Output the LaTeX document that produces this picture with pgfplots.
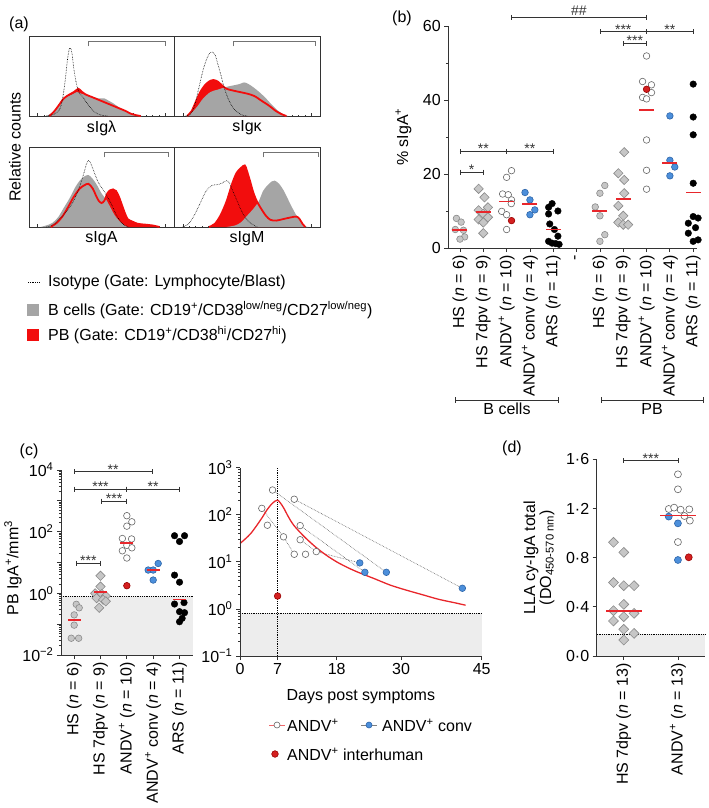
\documentclass[border=0pt]{standalone}
\usepackage{fontspec}
\setmainfont{Liberation Sans}
\usepackage{pgfplots}
\pgfplotsset{compat=1.18}
\definecolor{hgray}{HTML}{A5A5A5}
\definecolor{hred}{HTML}{F20D0D}
\definecolor{ptgray}{HTML}{C6C6C6}
\definecolor{ptedge}{HTML}{8A8A8A}
\definecolor{bluept}{HTML}{4C8FDB}
\definecolor{blueedge}{HTML}{2C64A8}
\definecolor{redpt}{HTML}{D42020}
\definecolor{medred}{HTML}{E8262B}
\definecolor{shade}{HTML}{EDEDED}
\definecolor{axc}{HTML}{333333}
\newcommand{\fs}{\fontsize{16}{19}\selectfont}
\newcommand{\sfs}{\fontsize{14}{14}\selectfont}
\newcommand{\nn}{\textit{n}}
\newcommand{\ap}{ANDV\textsuperscript{+}}
\newcommand{\brk}[4]{%
 \draw[axc, line width=0.8pt] (axis cs:#1,#3) -- node[midway, anchor=base, yshift=-2.5pt, inner sep=0pt, font=\sfs, text=axc] {#4} (axis cs:#2,#3);
 \draw[axc, line width=0.8pt] ([yshift=2.5pt]axis cs:#1,#3) -- ([yshift=-2.5pt]axis cs:#1,#3);
 \draw[axc, line width=0.8pt] ([yshift=2.5pt]axis cs:#2,#3) -- ([yshift=-2.5pt]axis cs:#2,#3);}
\pgfplotsset{
 base/.style={scale only axis, axis lines*=left, axis line style={axc, line width=0.8pt, -},
   every tick/.style={axc, line width=0.8pt}, tick align=outside, major tick length=4pt, minor tick length=2.5pt,
   tick label style={font=\fs}, label style={font=\fs}, /pgf/number format/assume math mode=true, clip=false, axis on top},
 hist/.style={scale only axis, xmin=0, xmax=100, ymin=0, ymax=100, axis line style={axc, line width=0.7pt},
   ytick=\empty, xtick={6,28,50,72,94}, xticklabels={}, minor x tick num=4, tick align=inside, xtick pos=bottom,
   major tick length=3pt, minor tick length=1.5pt, every tick/.style={axc, line width=0.5pt},
   label style={font=\fs}, xlabel style={at={(axis description cs:0.5,0)}, anchor=north, yshift=-1pt}},
 hs/.style={only marks, mark=*, mark size=3.3pt, mark options={fill=ptgray, draw=ptedge, line width=0.6pt}},
 dpv/.style={only marks, mark=square*, mark size=3.3pt, mark options={rotate=45, fill=ptgray, draw=ptedge, line width=0.6pt}},
 andv/.style={only marks, mark=*, mark size=3.3pt, mark options={fill=white, draw=black!60, line width=0.6pt}},
 conv/.style={only marks, mark=*, mark size=3.3pt, mark options={fill=bluept, draw=blueedge, line width=0.6pt}},
 inter/.style={only marks, mark=*, mark size=3.3pt, mark options={fill=redpt, draw=red!60!black, line width=0.6pt}},
 ars/.style={only marks, mark=*, mark size=3.3pt, mark options={fill=black, draw=black}},
 med/.style={only marks, mark=-, mark size=7.5pt, mark options={draw=medred, line width=1.6pt}},
 thr/.style={densely dotted, black, line width=0.8pt},
}
\begin{document}
\begin{tikzpicture}[font=\fs]
\path[use as bounding box] (0,0) rectangle (709pt,-808pt);

% ================= (a) =================
\node at (19pt,-24pt) {(a)};
\node[rotate=90] at (15pt,-147pt) {Relative counts};

\begin{axis}[hist, at={(29pt,-116pt)}, anchor=south west, width=145pt, height=80pt, xlabel={sIgλ}]
\addplot[fill=hred, draw=none, smooth] coordinates {(14,0)(17,5)(20,12)(24,22)(28,27)(31,30)(34,34)(36,31)(39,27)(43,24)(47,21)(51,18)(55,15)(59,12)(63,9)(67,6)(70,3)(74,1)(77,0)};
\addplot[fill=hgray, draw=none, smooth] coordinates {(12,0)(15,3)(18,8)(22,18)(26,24)(30,27)(33,30)(36,28)(40,26)(44,24)(48,22)(52,22)(55,19)(58,16)(62,11)(66,7)(70,4)(74,1)(78,0)};
\addplot[hred, line width=1.8pt, smooth] coordinates {(14,0)(17,5)(20,12)(24,22)(28,27)(31,30)(34,34)(36,31)(39,27)(43,24)(47,21)(51,18)(55,15)(59,12)(63,9)(67,6)(70,3)(74,1)(77,0)};
\addplot[black, densely dotted, line width=0.6pt, smooth] coordinates {(12,0)(15,1)(18,3)(21,8)(23,20)(25,45)(26.5,70)(28,85)(29.5,80)(31,58)(33,38)(35,28)(37,24)(40,16)(43,9)(46,4)(50,1)(54,0)};
\draw[black!55, line width=0.8pt] (axis cs:40.7,87) -- (axis cs:40.7,93) -- (axis cs:93.8,93) -- (axis cs:93.8,87);
\end{axis}

\begin{axis}[hist, at={(174pt,-116pt)}, anchor=south west, width=146pt, height=80pt, xlabel={sIgκ}]
\addplot[fill=hred, draw=none, smooth] coordinates {(9,0)(12,6)(15,18)(18,30)(21,38)(24,43)(27,45)(30,43)(33,38)(36,34)(40,32)(45,30)(50,28)(55,25)(60,19)(65,13)(70,6)(74,2)(77,0)};
\addplot[fill=hgray, draw=none, smooth] coordinates {(8,0)(12,4)(16,12)(20,22)(25,30)(30,33)(35,36)(40,38)(45,40)(48,42)(51,40)(55,35)(59,29)(63,22)(67,14)(71,7)(75,2)(78,0)};
\addplot[hred, line width=1.8pt, smooth] coordinates {(9,0)(12,6)(15,18)(18,30)(21,38)(24,43)(27,45)(30,43)(33,38)(36,34)(40,32)(45,30)(50,28)(55,25)(60,19)(65,13)(70,6)(74,2)(77,0)};
\addplot[black, densely dotted, line width=0.6pt, smooth] coordinates {(8,0)(11,2)(14,12)(17,35)(20,58)(23,74)(25.5,80)(28,77)(30,65)(32,52)(34,38)(36,27)(38,18)(41,9)(44,4)(47,1)(50,0)};
\draw[black!55, line width=0.8pt] (axis cs:41,87) -- (axis cs:41,93) -- (axis cs:96.6,93) -- (axis cs:96.6,87);
\end{axis}

\begin{axis}[hist, at={(29pt,-227pt)}, anchor=south west, width=145pt, height=80pt, xlabel={sIgA}]
\addplot[fill=hred, draw=none, smooth] coordinates {(15,0)(19,5)(23,13)(27,25)(31,38)(35,48)(38,52)(41,54)(44,48)(46,40)(48,33)(50,30)(52,33)(54,42)(56,46)(58,47)(60,45)(62,38)(64,28)(66,18)(68,10)(71,7)(75,4)(80,3)(85,2)(90,0)};
\addplot[fill=hgray, draw=none, smooth] coordinates {(8,0)(12,2)(16,5)(20,12)(24,24)(28,36)(32,50)(35,58)(38,63)(41,65)(44,60)(47,52)(50,42)(53,35)(56,25)(59,15)(62,8)(65,3)(68,0)};
\addplot[hred, line width=1.8pt, smooth] coordinates {(15,0)(19,5)(23,13)(27,25)(31,38)(35,48)(38,52)(41,54)(44,48)(46,40)(48,33)(50,30)(52,33)(54,42)(56,46)(58,47)(60,45)(62,38)(64,28)(66,18)(68,10)(71,7)(75,4)(80,3)(85,2)(90,0)};
\addplot[black, densely dotted, line width=0.6pt, smooth] coordinates {(12,0)(16,2)(20,8)(25,18)(30,30)(34,46)(37,62)(39.5,78)(41,83)(42.5,80)(45,68)(48,55)(51,47)(54,38)(57,28)(60,16)(63,7)(66,2)(69,0)};
\draw[black!55, line width=0.8pt] (axis cs:51.7,87) -- (axis cs:51.7,93.5) -- (axis cs:95.9,93.5) -- (axis cs:95.9,87);
\end{axis}

\begin{axis}[hist, at={(174pt,-227pt)}, anchor=south west, width=146pt, height=80pt, xlabel={sIgM}]
\addplot[fill=hred, draw=none, smooth] coordinates {(24,0)(28,4)(32,15)(36,32)(40,55)(43,68)(46,74)(48.5,77)(50,70)(52,58)(54,45)(56,35)(58,28)(60,22)(63,14)(66,9)(70,8)(75,10)(80,12)(84,13)(86,10)(88,4)(90,0)};
\addplot[fill=hgray, draw=none, smooth] coordinates {(36,0)(42,2)(46,6)(50,14)(54,22)(58,32)(61,45)(64,52)(67,57)(69,58)(72,54)(75,46)(78,35)(81,24)(84,14)(87,6)(90,1)(92,0)};
\addplot[hred, line width=1.8pt, smooth] coordinates {(24,0)(28,4)(32,15)(36,32)(40,55)(43,68)(46,74)(48.5,77)(50,70)(52,58)(54,45)(56,35)(58,28)(60,22)(63,14)(66,9)(70,8)(75,10)(80,12)(84,13)(86,10)(88,4)(90,0)};
\addplot[black, densely dotted, line width=0.6pt, smooth] coordinates {(6,0)(10,4)(14,15)(18,30)(22,45)(26,52)(30,53)(33,55)(36,58)(38,55)(40,46)(42,38)(45,25)(48,14)(51,7)(54,3)(57,0)};
\draw[black!55, line width=0.8pt] (axis cs:61,87) -- (axis cs:61,93.5) -- (axis cs:98.6,93.5) -- (axis cs:98.6,87);
\end{axis}

% legend (a)
\draw[black, densely dotted, line width=0.8pt] (28pt,-282pt) -- (40pt,-282pt);
\node[anchor=west, inner sep=0pt] at (48pt,-282pt) {Isotype (Gate: Lymphocyte/Blast)};
\fill[hgray] (27pt,-304pt) rectangle (39pt,-316pt);
\node[anchor=west, inner sep=0pt] at (48pt,-310pt) {B cells (Gate: CD19\textsuperscript{+}/CD38\textsuperscript{low/neg}/CD27\textsuperscript{low/neg})};
\fill[hred] (27pt,-329pt) rectangle (39pt,-341pt);
\node[anchor=west, inner sep=0pt] at (48pt,-335pt) {PB (Gate: CD19\textsuperscript{+}/CD38\textsuperscript{hi}/CD27\textsuperscript{hi})};

% ================= (b) =================
\node at (402pt,-18pt) {(b)};
\begin{axis}[base, at={(448.3pt,-248pt)}, anchor=south west, width=248.4pt, height=222pt,
  xmin=-0.5, xmax=10.15, ymin=0, ymax=60, ytick={0,20,40,60}, minor ytick={10,30,50},
  xtick={0,1,2,3,4,5,6,7,8,9,10},
  xticklabels={HS (\nn{} = 6), HS 7dpv (\nn{} = 9), \ap{} (\nn{} = 10), \ap{} conv (\nn{} = 4), ARS (\nn{} = 11), -, HS (\nn{} = 6), HS 7dpv (\nn{} = 9), \ap{} (\nn{} = 10), \ap{} conv (\nn{} = 4), ARS (\nn{} = 11)},
  xticklabel style={rotate=90, anchor=east},
  ylabel={\% sIgA\textsuperscript{+}},
  every axis y label/.style={at={(axis description cs:-0.181,0.5)}, rotate=90, anchor=center}]
% B cells
\addplot[hs] coordinates {(-0.15,8.0)(0.05,7.0)(-0.2,5.0)(0.15,4.8)(0.2,3.0)(0.0,2.4)};
\addplot[dpv] coordinates {(0.8,16.0)(1.05,13.7)(1.2,11.0)(0.8,10.2)(1,9.3)(1.2,8.3)(0.8,7.7)(1,6.9)(1,4.0)};
\addplot[andv] coordinates {(2.21,20.9)(2,19.1)(1.83,14.6)(2.07,14.4)(2.21,13.0)(2.2,12.0)(1.79,9.9)(2,9.0)(2,5.0)};
\addplot[inter] coordinates {(2.21,7.4)};
\addplot[conv] coordinates {(2.79,15.0)(3,13.0)(3.21,10.3)(3,9.0)};
\addplot[ars] coordinates {(3.95,12.0)(3.8,11.0)(4.2,10.0)(3.8,9.2)(3.85,6.5)(4.05,5.0)(4.2,3.2)(3.8,1.8)(3.95,1.3)(4.1,1.2)(4.25,1.0)};
% PB
\addplot[hs] coordinates {(6.21,16.9)(6,14.8)(5.8,11.1)(6,8.7)(6.21,3.6)(6,1.8)};
\addplot[dpv] coordinates {(7.04,25.9)(6.79,20.2)(7.04,18.4)(7.04,14.8)(6.79,11.4)(7,8.7)(6.79,6.9)(7,6.3)(7.21,6.3)};
\addplot[andv] coordinates {(8,51.9)(7.83,45.0)(8.21,44.1)(8.21,42.0)(7.83,40.7)(8,40.3)(8,29.2)(8,21.0)(8,15.9)};
\addplot[inter] coordinates {(8,42.9)};
\addplot[conv] coordinates {(9,35.7)(9,23.7)(9.21,21.9)(9,19.5)};
\addplot[ars] coordinates {(10,44.3)(10,35.4)(10,30.6)(10,17.5)(10,8.5)(10.21,8.1)(9.79,6.7)(9.79,4.0)(10,1.8)(10.21,2.2)(10.1,5.5)};
\addplot[med] coordinates {(0,4.9)(1,9.7)(2,12.6)(3,11.9)(4,5.0)(6,10.0)(7,13.2)(8,37.3)(9,22.9)(10,15.0)};
\brk{0}{1}{20.5}{*}
\brk{0}{2}{26.1}{**}
\brk{2}{4}{26.1}{**}
\brk{2.2}{8}{62.3}{\raisebox{4.5pt}{\#\#}}
\brk{6}{8}{58.5}{***}
\brk{8}{10}{58.5}{**}
\brk{7}{8}{55.3}{***}
\end{axis}
\draw[axc, line width=0.8pt] (455.7pt,-400pt) -- (558pt,-400pt);
\draw[axc, line width=0.8pt] (455.7pt,-397pt) -- (455.7pt,-403pt);
\draw[axc, line width=0.8pt] (558pt,-397pt) -- (558pt,-403pt);
\node[anchor=north, inner sep=1pt] at (507pt,-402pt) {B cells};
\draw[axc, line width=0.8pt] (601.7pt,-400pt) -- (703pt,-400pt);
\draw[axc, line width=0.8pt] (601.7pt,-397pt) -- (601.7pt,-403pt);
\draw[axc, line width=0.8pt] (703pt,-397pt) -- (703pt,-403pt);
\node[anchor=north, inner sep=1pt] at (652pt,-402pt) {PB};

% ================= (c) left =================
\node at (29pt,-451pt) {(c)};
\begin{axis}[base, at={(61pt,-655pt)}, anchor=south west, width=131.7pt, height=185pt,
  ymode=log, xmin=-0.5, xmax=4.5, ymin=0.01, ymax=10000,
  ytick={0.01,0.1,1,10,100,1000,10000},
  yticklabels={10\textsuperscript{−2},,10\textsuperscript{0},,10\textsuperscript{2},,10\textsuperscript{4}},
  minor ytick={0.02,0.03,0.04,0.05,0.06,0.07,0.08,0.09,0.2,0.3,0.4,0.5,0.6,0.7,0.8,0.9,2,3,4,5,6,7,8,9,20,30,40,50,60,70,80,90,200,300,400,500,600,700,800,900,2000,3000,4000,5000,6000,7000,8000,9000},
  minor tick length=2pt,
  xtick={0,1,2,3,4},
  xticklabels={HS (\nn{} = 6), HS 7dpv (\nn{} = 9), \ap{} (\nn{} = 10), \ap{} conv (\nn{} = 4), ARS (\nn{} = 11)},
  xticklabel style={rotate=90, anchor=east},
  ylabel={PB IgA\textsuperscript{+}/mm\textsuperscript{3}},
  every axis y label/.style={at={(axis description cs:-0.3645,0.47)}, rotate=90, anchor=center}]
\addplot[fill=shade, draw=none] coordinates {(-0.5,0.01)(4.5,0.01)(4.5,0.82)(-0.5,0.82)};
\addplot[thr] coordinates {(-0.5,0.82)(4.5,0.82)};
\addplot[hs] coordinates {(0.08,0.44)(0.19,0.34)(0,0.2)(0,0.093)(-0.11,0.035)(0.17,0.035)};
\addplot[dpv] coordinates {(1,3.7)(1,1.66)(0.8,1.0)(1.05,0.95)(1.2,0.82)(0.85,0.7)(1.1,0.62)(1.2,0.55)(0.95,0.34)};
\addplot[andv] coordinates {(2,330)(2.19,209)(2,151)(1.83,60)(2.18,58)(2,36)(2.19,30)(1.83,24)(2,14)};
\addplot[inter] coordinates {(2,1.77)};
\addplot[conv] coordinates {(2.81,5.7)(3,5.7)(3.19,9.3)(3,2.7)};
\addplot[ars] coordinates {(3.81,74)(4.19,74)(4,48)(3.81,3.9)(4,2.3)(3.81,0.45)(4.17,0.5)(4,0.255)(4.19,0.236)(4.1,0.155)(4,0.12)};
\addplot[med, mark size=6.5pt] coordinates {(0,0.136)(1,1.13)(2,43.6)(3,5.7)(4,0.64)};
\brk{0}{2.96}{8830}{**}
\brk{0}{2}{2420}{***}
\brk{2}{4}{2420}{**}
\brk{1.03}{2}{988}{***}
\brk{0.08}{1}{9.4}{***}
\end{axis}

% ================= (c) right =================
\begin{axis}[base, at={(240pt,-656pt)}, anchor=south west, width=241.7pt, height=188.3pt,
  ymode=log, xmin=0, xmax=45, ymin=0.1, ymax=1000,
  ytick={0.1,1,10,100,1000},
  yticklabels={10\textsuperscript{−1},10\textsuperscript{0},10\textsuperscript{1},10\textsuperscript{2},10\textsuperscript{3}},
  minor ytick={0.2,0.3,0.4,0.5,0.6,0.7,0.8,0.9,2,3,4,5,6,7,8,9,20,30,40,50,60,70,80,90,200,300,400,500,600,700,800,900},
  minor tick length=2pt,
  xtick={0,7,18,30,45},
  xlabel={Days post symptoms},
  every axis x label/.style={at={(axis description cs:0.5,0)}, anchor=center, yshift=-41pt}]
\addplot[fill=shade, draw=none] coordinates {(0,0.1)(45,0.1)(45,0.82)(0,0.82)};
\addplot[thr] coordinates {(0,0.82)(45,0.82)};
\addplot[thr] coordinates {(7,0.1)(7,1000)};
\addplot[densely dotted, black!65, line width=0.6pt] coordinates {(6.06,336)(27.25,6.0)};
\addplot[densely dotted, black!65, line width=0.6pt] coordinates {(10.1,214)(41.4,2.75)};
\addplot[densely dotted, black!65, line width=0.6pt] coordinates {(11.2,59)(23.25,6.0)};
\addplot[densely dotted, black!65, line width=0.6pt] coordinates {(11.2,29.5)(14.2,16.5)(22.3,9.5)};
\addplot[densely dotted, black!65, line width=0.6pt] coordinates {(4.06,137)(8.1,34)(10.1,14.5)};
\addplot[medred, line width=1.3pt, smooth, tension=0.5] coordinates {(0,24.5)(2,40)(4,83)(5,126)(6,174)(7,204)(8,148)(9,91)(10,60)(12,34)(14,21)(16,14)(18,10)(20,7.6)(22,6.0)(25,4.4)(28,3.2)(31,2.5)(34,2.0)(37,1.6)(40,1.35)(42,1.2)};
\addplot[andv] coordinates {(4.06,137)(5.1,60)(6.06,336)(8.1,34)(10.1,214)(11.2,59)(11.2,29.5)(10.1,14.5)(12.2,14.5)(14.2,16.5)};
\addplot[conv] coordinates {(22.3,9.5)(23.25,6.0)(27.25,6.0)(41.4,2.75)};
\addplot[inter] coordinates {(7,1.88)};
\end{axis}
% legend (c)
\draw[medred!70, line width=0.6pt] (269pt,-725pt) -- (285pt,-725pt);
\draw[fill=white, draw=black!60, line width=0.6pt] (277pt,-725pt) circle (3pt);
\node[anchor=west, inner sep=0pt] at (287pt,-725pt) {\ap};
\draw[black!50, line width=0.6pt] (361pt,-725pt) -- (377pt,-725pt);
\draw[fill=bluept, draw=blueedge, line width=0.6pt] (369pt,-725pt) circle (3pt);
\node[anchor=west, inner sep=0pt] at (382pt,-725pt) {\ap{} conv};
\draw[fill=redpt, draw=red!60!black, line width=0.6pt] (275pt,-754pt) circle (3.3pt);
\node[anchor=west, inner sep=0pt] at (287pt,-754pt) {\ap{} interhuman};

% ================= (d) =================
\node at (512pt,-448pt) {(d)};
\begin{axis}[base, at={(596.7pt,-656pt)}, anchor=south west, width=108.3pt, height=196.7pt,
  xmin=-0.5, xmax=1.5, ymin=0, ymax=1.6,
  ytick={0,0.4,0.8,1.2,1.6}, yticklabels={0·0,0·4,0·8,1·2,1·6},
  xtick={0,1}, xticklabels={HS 7dpv (\nn{} = 13), \ap{} (\nn{} = 13)},
  xticklabel style={rotate=90, anchor=east},
  ylabel={LLA cy-IgA total\\(DO\textsubscript{450-570 nm})},
  every axis y label/.style={at={(axis description cs:-0.533,0.5)}, rotate=90, anchor=center, align=center, font=\fontsize{16}{16}\selectfont}]
\addplot[fill=shade, draw=none] coordinates {(-0.5,0)(1.5,0)(1.5,0.179)(-0.5,0.179)};
\addplot[thr] coordinates {(-0.5,0.179)(1.5,0.179)};
\addplot[dpv, mark size=3.5pt] coordinates {(-0.19,0.925)(0,0.843)(-0.19,0.597)(0,0.572)(0.19,0.572)(0,0.42)(-0.19,0.369)(0.19,0.347)(0,0.32)(-0.19,0.285)(0,0.217)(0.19,0.184)(0,0.13)};
\addplot[andv, mark size=3.5pt] coordinates {(1,1.478)(1,1.356)(0.83,1.196)(0.93,1.207)(1.05,1.19)(1.21,1.193)(1.12,1.139)(1.22,1.101)(1,0.927)};
\addplot[conv, mark size=3.5pt] coordinates {(0.83,1.134)(1,1.079)(1,0.781)};
\addplot[inter, mark size=3.5pt] coordinates {(1.2,0.803)};
\addplot[med, mark size=18pt] coordinates {(0,0.366)(1,1.142)};
\brk{0}{1}{1.59}{***}
\end{axis}
\end{tikzpicture}
\end{document}
